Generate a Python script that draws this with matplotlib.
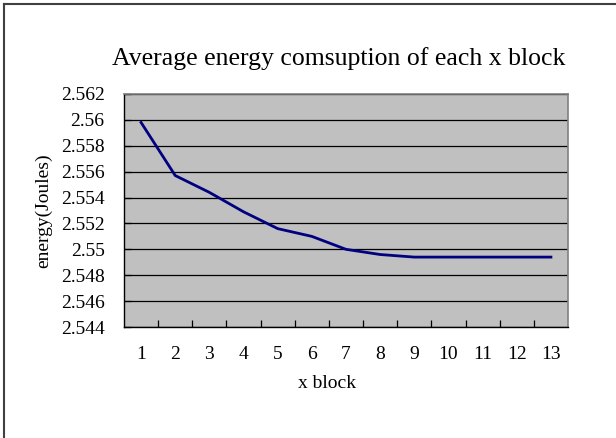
import matplotlib
matplotlib.use("Agg")
import matplotlib.pyplot as plt
from matplotlib.lines import Line2D
import numpy as np

blocks = [1, 2, 3, 4, 5, 6, 7, 8, 9, 10, 11, 12, 13]
energy = [2.5598, 2.5557, 2.5544, 2.5529, 2.5516, 2.5510, 2.5500,
          2.5496, 2.5494, 2.5494, 2.5494, 2.5494, 2.5494]
yticks = [2.544, 2.546, 2.548, 2.550, 2.552, 2.554, 2.556, 2.558, 2.560, 2.562]
ytick_labels = ["2.544", "2.546", "2.548", "2.55", "2.552", "2.554", "2.556", "2.558", "2.56", "2.562"]

plt.rcParams['font.family'] = ['Liberation Serif', 'DejaVu Serif']

fig = plt.figure(figsize=(6.16, 4.38), dpi=100)
ax = fig.add_axes([124/616, 1-327/438, 444/616, 233/438])
ax.set_facecolor('#C0C0C0')

ax.plot(blocks, energy, color='#000080', lw=2.0, solid_joinstyle='round')

ax.set_xlim(0.5, 13.5)
ax.set_ylim(2.544, 2.562)
ax.set_yticks(yticks)
ax.set_yticklabels(ytick_labels)
ax.yaxis.grid(True, color='black', lw=0.9)
ax.set_axisbelow(True)
ax.tick_params(axis='y', direction='in', length=5, pad=14, labelsize=14, width=0.9)

ax.set_xticks(blocks)
ax.set_xticklabels([str(b) for b in blocks])
ax.tick_params(axis='x', which='major', length=0, pad=13.5, labelsize=14)
ax.set_xticks(np.arange(1.5, 13.5, 1), minor=True)
ax.tick_params(axis='x', which='minor', direction='in', length=5, width=0.9)

for s in ['top', 'right']:
    ax.spines[s].set_color('#808080')
    ax.spines[s].set_linewidth(1.2)
for s in ['left', 'bottom']:
    ax.spines[s].set_color('black')
    ax.spines[s].set_linewidth(1.0)

ax.set_title('Average energy comsuption of each x block', fontsize=18.5, pad=21, x=0.484)
ax.set_xlabel('x block', fontsize=14, labelpad=9, x=0.458)
ax.set_ylabel('energy(Joules)', fontsize=14, labelpad=6)

# outer chart border (left and top)
fig.add_artist(Line2D([3.5/616, 3.5/616], [0, 1-3.5/438], transform=fig.transFigure, color='#404040', lw=1.5))
fig.add_artist(Line2D([3.5/616, 1], [1-3.5/438, 1-3.5/438], transform=fig.transFigure, color='#404040', lw=1.5))

fig.savefig('out.png', dpi=100)
